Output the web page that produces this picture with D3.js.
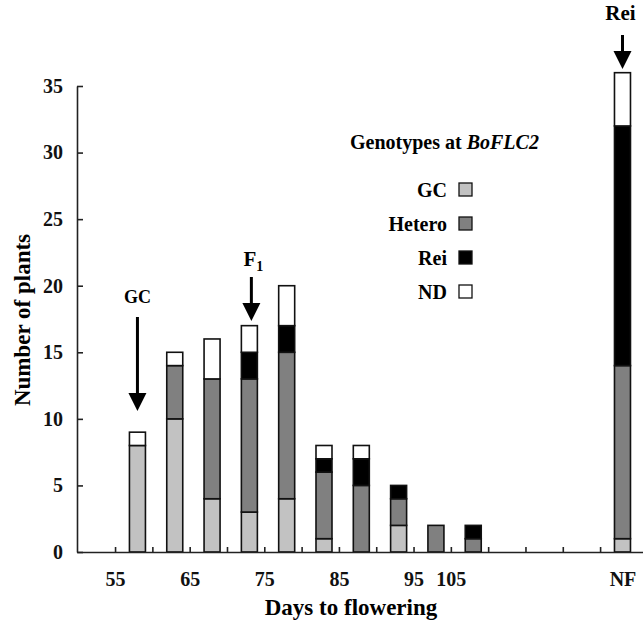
<!DOCTYPE html>
<html>
<head>
<meta charset="utf-8">
<script src="https://cdn.jsdelivr.net/npm/d3@7"></script>
<style>
  body { margin: 0; background: #fff; }
  svg { display: block; font-family: "Liberation Serif", "Times New Roman", serif; font-weight: bold; }
</style>
</head>
<body>
<div id="chart"></div>
<script>
// bars sit in slots along the x axis (slot 0 = first bar, NF in slot 13)
const barSlots = [0, 1, 2, 3, 4, 5, 6, 7, 8, 9, 13];
const gcValues     = [8, 10, 4, 3, 4, 1, 0, 2, 0, 0, 1];
const heteroValues = [0, 4, 9, 10, 11, 5, 5, 2, 2, 1, 13];
const reiValues    = [0, 0, 0, 2, 2, 1, 2, 1, 0, 1, 18];
const ndValues     = [1, 1, 3, 2, 3, 1, 1, 0, 0, 0, 4];

const genotypes = ["GC", "Hetero", "Rei", "ND"];
const colors = ["#c2c2c2", "#808080", "#000000", "#ffffff"];

const tickSlots = d3.range(0, 14);            // tick marks between bars
const xLabels = ["55", "65", "75", "85", "95", "105"];
const xLabelTicks = [0, 2, 4, 6, 8, 9];
const yTicks = [0, 5, 10, 15, 20, 25, 30, 35];

const width = 643, height = 627;
const svg = d3.select("#chart").append("svg")
  .attr("width", width)
  .attr("height", height);

const x = d3.scaleLinear().domain([-1.62, 13.55]).range([77, 643]);
const y = d3.scaleLinear().domain([0, 35]).range([552, 86]);
const barW = 16;
const tickOffset = -0.6;

// stacked data
const rows = barSlots.map((s, i) => ({
  slot: s, GC: gcValues[i], Hetero: heteroValues[i], Rei: reiValues[i], ND: ndValues[i]
}));
const stacked = d3.stack().keys(genotypes)(rows);

stacked.forEach((layer, li) => {
  svg.append("g")
    .selectAll("rect")
    .data(layer.filter(d => d[1] > d[0]))
    .join("rect")
    .attr("x", d => x(d.data.slot) - barW / 2)
    .attr("y", d => y(d[1]))
    .attr("width", barW)
    .attr("height", d => y(d[0]) - y(d[1]))
    .attr("fill", colors[li])
    .attr("stroke", "#111")
    .attr("stroke-width", 1.6);
});

// Y axis
const yAxis = svg.append("g")
  .attr("transform", "translate(" + x.range()[0] + ",0)")
  .call(d3.axisLeft(y).tickValues(yTicks).tickSize(-6).tickSizeOuter(0).tickPadding(14));
yAxis.selectAll("text").attr("font-size", 20).attr("font-family", "Liberation Serif").attr("font-weight", "bold").attr("fill", "#111");

// X axis marks
const xAxis = svg.append("g")
  .attr("transform", "translate(0," + y(0) + ")")
  .call(d3.axisBottom(x).tickValues(tickSlots.map(t => t + tickOffset)).tickSize(-5).tickSizeOuter(0).tickFormat(""));

// X labels
const labelPos = xLabelTicks.map(t => t + tickOffset).concat([13]);
const labelText = xLabels.concat(["NF"]);
svg.append("g")
  .attr("transform", "translate(0," + y(0) + ")")
  .call(d3.axisBottom(x).tickValues(labelPos).tickSize(0).tickPadding(20)
    .tickFormat((d, i) => labelText[i]))
  .call(g => g.select(".domain").remove())
  .selectAll("text").attr("font-size", 20).attr("font-family", "Liberation Serif").attr("font-weight", "bold").attr("fill", "#111");

svg.selectAll(".domain, .tick line").attr("stroke", "#222").attr("stroke-width", 1.6);

// axis titles
svg.append("text")
  .attr("x", 351).attr("y", 615)
  .attr("text-anchor", "middle")
  .attr("font-size", 23)
  .text("Days to flowering");

svg.append("text")
  .attr("transform", "translate(30,320) rotate(-90)")
  .attr("text-anchor", "middle")
  .attr("font-size", 23)
  .text("Number of plants");

// legend
const legendTitle = svg.append("text").attr("x", 350).attr("y", 149).attr("font-size", 20);
legendTitle.append("tspan").text("Genotypes at ");
legendTitle.append("tspan").attr("font-style", "italic").text("BoFLC2");

const legend = svg.append("g");
genotypes.forEach((g, i) => {
  const cy = 190 + i * 34;
  legend.append("text")
    .attr("x", 447).attr("y", cy + 7)
    .attr("text-anchor", "end")
    .attr("font-size", 20)
    .text(g);
  legend.append("rect")
    .attr("x", 459).attr("y", cy - 7)
    .attr("width", 13).attr("height", 13)
    .attr("fill", colors[i])
    .attr("stroke", "#111")
    .attr("stroke-width", 1.3);
});

// arrows
function arrow(cx, y0, y1) {
  svg.append("line")
    .attr("x1", cx).attr("x2", cx)
    .attr("y1", y0).attr("y2", y1 - 16)
    .attr("stroke", "#000").attr("stroke-width", 3);
  svg.append("path")
    .attr("d", `M${cx - 9},${y1 - 18} L${cx + 9},${y1 - 18} L${cx},${y1} Z`)
    .attr("fill", "#000");
}

arrow(x(0), 317, 411);
svg.append("text").attr("x", x(0)).attr("y", 303).attr("text-anchor", "middle").attr("font-size", 18).text("GC");

arrow(x(3) + 2, 277, 321);
const f1 = svg.append("text").attr("x", x(3) + 4).attr("y", 266).attr("text-anchor", "middle").attr("font-size", 21);
f1.append("tspan").text("F");
f1.append("tspan").attr("font-size", 14).attr("dy", 5).text("1");

arrow(x(13), 35, 69);
svg.append("text").attr("x", x(13) - 2).attr("y", 20).attr("text-anchor", "middle").attr("font-size", 21).text("Rei");
</script>
</body>
</html>
